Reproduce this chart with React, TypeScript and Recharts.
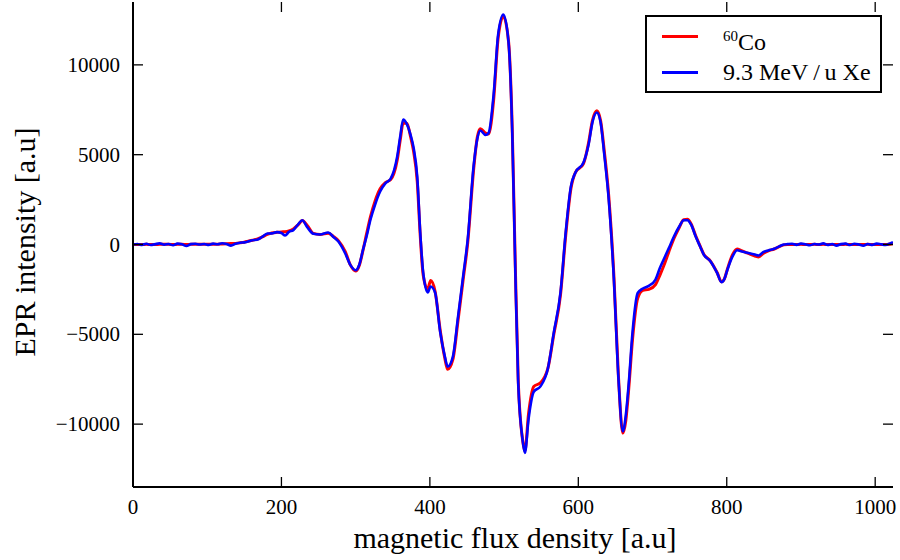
import { LineChart, Line, XAxis, YAxis, Legend } from "recharts";

// magnetic flux density positions (a.u)
const flux = [
  0, 6, 12, 18, 24, 30, 36, 42, 48, 54, 60, 66, 72, 78, 84, 90, 96, 102, 108, 114, 120, 126, 132, 138,
  144, 150, 155, 161, 167, 174, 181, 187, 194, 200, 205, 210, 216, 223, 228, 235, 243, 252, 263, 270, 277, 286, 293, 300, 305, 310,
  315, 320, 326, 333, 340, 347, 356, 360, 364, 369, 374, 378, 383, 387, 391, 397, 401, 407, 414, 420, 424, 431, 438, 445, 451,
  459, 464, 468, 475, 479, 486, 492, 499, 506, 511, 515, 519, 525, 528, 533, 540, 549, 559, 567, 576,
  583, 590, 596, 607, 614, 619, 625, 630, 635, 641, 648, 654, 660, 664, 668, 673, 680, 687, 695, 704,
  710, 715, 722, 729, 736, 742, 747, 752, 758, 764, 769, 778, 787, 793, 797, 801, 808, 814, 819, 826, 832, 838, 843, 849, 856, 864, 870, 877, 882,
  888, 894, 900, 906, 912, 918, 924, 930, 936, 942, 948, 954, 960, 966, 972, 978, 984, 990, 996, 1002, 1008, 1014, 1020, 1024,
];

// 60Co irradiated sample
const co60 = [
  0, 0, 0, 10, 0, 0, 10, 10, 10, 0, 10, 10, 0, 10, 10, 10, 10, 10, 20, 20, 30, 40, 50, 60,
  90, 130, 180, 240, 300, 420, 560, 640, 680, 700, 710, 750, 860, 1120, 1330, 1050, 620, 560, 620, 450, 200, -400, -1150, -1480, -1150, -300,
  650, 1550, 2400, 3100, 3450, 3600, 4700, 5800, 6750, 6750, 6000, 5200, 3500, 500, -1700, -2500, -2000, -2600, -4800, -6300, -6950, -6400, -4200, -1900, 100,
  4200, 6000, 6450, 6200, 6150, 8100, 11500, 12700, 11300, 6400, -1000, -7500, -10900, -11500, -9400, -7900, -7700, -6900, -5000, -2800,
  500, 3100, 4000, 4500, 5700, 6900, 7450, 6900, 5200, 2700, -1800, -7300, -10500, -9800, -8000, -5300, -3000, -2550, -2500, -2230,
  -1700, -1200, -400, 350, 950, 1380, 1400, 1150, 500, -80, -540, -920, -1560, -2080, -1900, -1350, -550, -250, -330, -450, -550, -640, -700, -500, -350, -250, -130, -20, 0,
  0, 0, 10, 0, 0, 10, 0, 10, 0, 0, 0, 0, 10, 0, 0, 0, 0, 10, 0, 0, 0, 0, 20, 40,
];

// 9.3 MeV/u Xe irradiated sample
const xe93 = [
  0, 30, -20, 40, -30, 20, 60, -10, 30, -40, 50, 10, -80, 20, 40, 0, 30, -20, 50, 10, 70, 30, -60, 40,
  100, 120, 170, 240, 260, 420, 610, 620, 690, 640, 500, 700, 800, 1150, 1350, 950, 600, 560, 670, 420, 150, -500, -1150, -1430, -1110, -280,
  500, 1390, 2200, 2950, 3400, 3650, 4900, 6000, 6960, 6700, 6100, 5400, 3750, 670, -1570, -2670, -2340, -2670, -4900, -6200, -6800, -6240, -4000, -1700, 280,
  4400, 5900, 6350, 6100, 6200, 8400, 11700, 12800, 11250, 6240, -1220, -7700, -10900, -11600, -9700, -8200, -7900, -6900, -4900, -2670,
  670, 3230, 4000, 4570, 5600, 6800, 7350, 6800, 5000, 2500, -2000, -7400, -10400, -9500, -7700, -4900, -2700, -2450, -2300, -1950,
  -1300, -835, -200, 460, 1000, 1350, 1350, 1100, 460, -100, -560, -930, -1580, -2100, -1900, -1390, -650, -320, -370, -440, -500, -560, -610, -430, -330, -240, -120, 0, 20,
  40, -20, 50, 10, -40, 30, 0, 60, -20, 30, -60, 20, 50, -30, 40, 0, -70, 30, -20, 50, 10, -30, 60, 130,
];

const xTicks = [0, 200, 400, 600, 800, 1000];
const yTicks = [-10000, -5000, 0, 5000, 10000];

const data = flux.map((f, i) => ({ flux: f, co60: co60[i], xe: xe93[i] }));

const FONT = "'Liberation Serif', 'Times New Roman', serif";
const PLOT = { left: 133, right: 893, top: 2, bottom: 487 };
const TICK_LEN = 10;

const fmt = (v: number) => (v < 0 ? `\u2212${Math.abs(v)}` : `${v}`);

function FluxTick({ x, payload }: any) {
  return (
    <g>
      <line x1={x} x2={x} y1={PLOT.bottom} y2={PLOT.bottom - TICK_LEN} stroke="#000" strokeWidth={1.3} />
      <line x1={x} x2={x} y1={PLOT.top} y2={PLOT.top + TICK_LEN} stroke="#000" strokeWidth={1.3} />
      <text x={x} y={514} textAnchor="middle" fontFamily={FONT} fontSize={21} fill="#000">
        {payload.value}
      </text>
    </g>
  );
}

function IntensityTick({ y, payload }: any) {
  return (
    <g>
      <line x1={PLOT.left} x2={PLOT.left + TICK_LEN} y1={y} y2={y} stroke="#000" strokeWidth={1.3} />
      <line x1={PLOT.right} x2={PLOT.right - TICK_LEN} y1={y} y2={y} stroke="#000" strokeWidth={1.3} />
      <text x={120} y={y} textAnchor="end" dominantBaseline="central" fontFamily={FONT} fontSize={21} fill="#000">
        {fmt(payload.value)}
      </text>
    </g>
  );
}

function EprLegend() {
  const row = (top: number, color: string, label: any) => (
    <div style={{ position: "absolute", left: 0, top, height: 30, width: "100%" }}>
      <div style={{ position: "absolute", left: 15, top: 14, width: 36, height: 3, background: color }} />
      <div style={{ position: "absolute", left: 76, top: 0, lineHeight: "30px", fontSize: 24, whiteSpace: "nowrap" }}>
        {label}
      </div>
    </div>
  );
  return (
    <div
      style={{
        position: "relative",
        width: 233,
        height: 74,
        border: "2px solid #000",
        background: "#fff",
        fontFamily: FONT,
        color: "#000",
      }}
    >
      {row(4, "#ff0000", <span><sup style={{ fontSize: 15, verticalAlign: "9px" }}>60</sup>Co</span>)}
      {row(40, "#0000ff", "9.3 MeV\u2009/\u2009u Xe")}
    </div>
  );
}

export default function App() {
  return (
    <div style={{ width: 900, height: 560, background: "#fff" }}>
      <style>{`body{margin:0;background:#fff}`}</style>
      <LineChart width={900} height={560} data={data} margin={{ top: 2, right: 7, bottom: 0, left: 0 }}>
        <XAxis
          dataKey="flux"
          type="number"
          domain={[0, 1024]}
          ticks={xTicks}
          allowDataOverflow
          height={73}
          tickLine={false}
          axisLine={{ stroke: "#000", strokeWidth: 2 }}
          tick={<FluxTick />}
          label={{
            content: () => (
              <text x={515} y={548} textAnchor="middle" fontFamily={FONT} fontSize={30} fill="#000">
                magnetic flux density [a.u]
              </text>
            ),
          }}
        />
        <XAxis
          xAxisId="top"
          orientation="top"
          type="number"
          domain={[0, 1024]}
          height={0}
          tick={false}
          tickLine={false}
          axisLine={{ stroke: "#000", strokeWidth: 2 }}
        />
        <YAxis
          type="number"
          domain={[-13500, 13500]}
          ticks={yTicks}
          allowDataOverflow
          width={133}
          tickLine={false}
          axisLine={{ stroke: "#000", strokeWidth: 2 }}
          tick={<IntensityTick />}
          label={{
            content: () => (
              <text
                x={24}
                y={242}
                transform="rotate(-90, 24, 242)"
                textAnchor="middle"
                dominantBaseline="central"
                fontFamily={FONT}
                fontSize={30}
                fill="#000"
              >
                EPR intensity [a.u]
              </text>
            ),
          }}
        />
        <YAxis
          yAxisId="right"
          orientation="right"
          type="number"
          domain={[-13500, 13500]}
          width={0}
          tick={false}
          tickLine={false}
          axisLine={{ stroke: "#000", strokeWidth: 2 }}
        />
        <Legend
          layout="horizontal"
          verticalAlign="middle"
          content={<EprLegend />}
          wrapperStyle={{ left: 645, top: 15, width: 237, height: 78 }}
        />
        <Line
          dataKey="co60"
          name="60Co"
          type="monotone"
          stroke="#ff0000"
          strokeWidth={3}
          dot={false}
          isAnimationActive={false}
        />
        <Line
          dataKey="xe"
          name="9.3 MeV/u Xe"
          type="monotone"
          stroke="#0000ff"
          strokeWidth={2.6}
          dot={false}
          isAnimationActive={false}
        />
      </LineChart>
    </div>
  );
}
